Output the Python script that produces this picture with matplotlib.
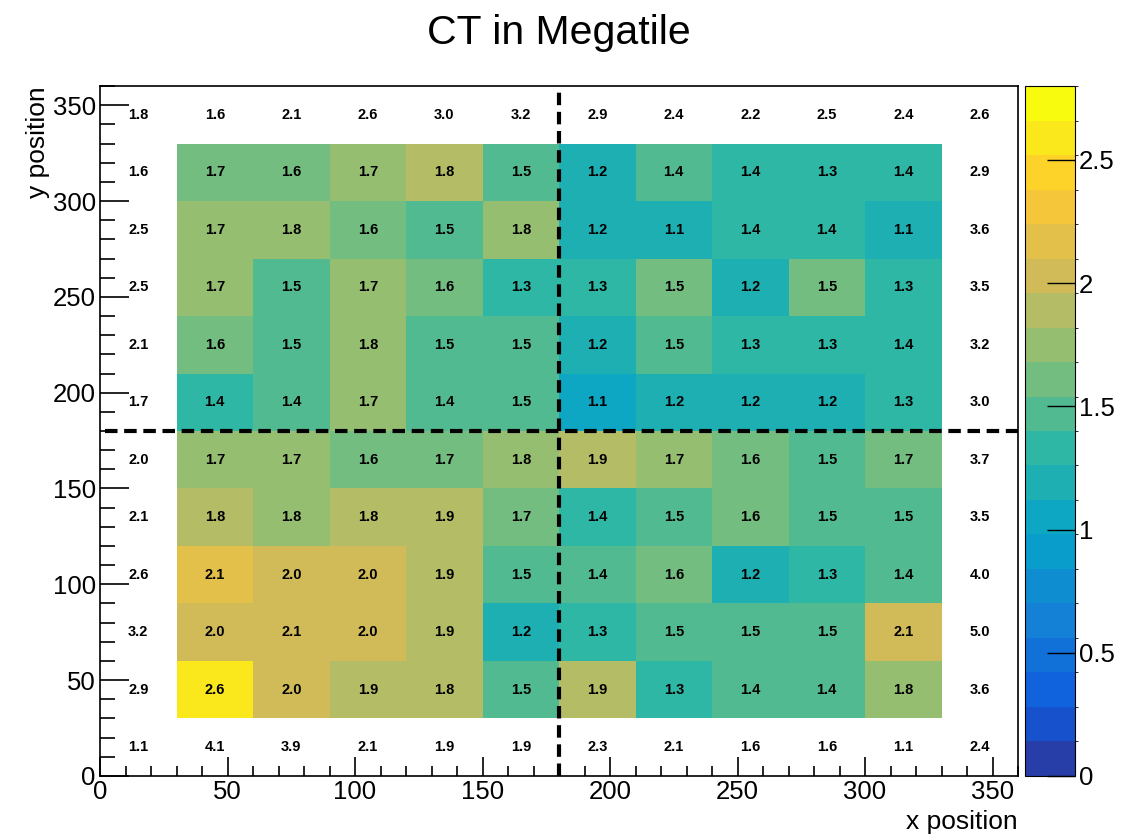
import numpy as np
import matplotlib
matplotlib.use("Agg")
import matplotlib.pyplot as plt
from matplotlib.colors import LinearSegmentedColormap, ListedColormap, BoundaryNorm
from matplotlib.ticker import MultipleLocator

plt.rcParams['font.family'] = ['Liberation Sans', 'DejaVu Sans']

# bin edges (12 x 12 bins, 30 wide)
x_edges = np.arange(0, 361, 30)
y_edges = np.arange(0, 361, 30)

# inner 10x10 cells, rows from y=30-60 (bottom) up to y=300-330 (top)
ct_inner = np.array([
    [2.60, 2.00, 1.90, 1.83, 1.50, 1.90, 1.30, 1.42, 1.42, 1.78],
    [2.00, 2.08, 2.00, 1.90, 1.20, 1.30, 1.50, 1.50, 1.50, 2.08],
    [2.12, 2.00, 2.00, 1.90, 1.50, 1.42, 1.60, 1.20, 1.30, 1.42],
    [1.83, 1.78, 1.83, 1.90, 1.66, 1.38, 1.50, 1.60, 1.50, 1.50],
    [1.70, 1.70, 1.60, 1.66, 1.78, 1.90, 1.70, 1.60, 1.50, 1.66],
    [1.38, 1.42, 1.70, 1.42, 1.50, 1.10, 1.20, 1.20, 1.20, 1.30],
    [1.60, 1.50, 1.78, 1.50, 1.50, 1.20, 1.50, 1.30, 1.30, 1.38],
    [1.70, 1.50, 1.70, 1.60, 1.30, 1.30, 1.54, 1.20, 1.54, 1.30],
    [1.70, 1.78, 1.60, 1.50, 1.78, 1.20, 1.13, 1.38, 1.38, 1.13],
    [1.66, 1.60, 1.70, 1.83, 1.50, 1.20, 1.42, 1.38, 1.30, 1.38],
])

# outer ring (text only)
ct_bottom = [1.1, 4.1, 3.9, 2.1, 1.9, 1.9, 2.3, 2.1, 1.6, 1.6, 1.1, 2.4]
ct_top = [1.8, 1.6, 2.1, 2.6, 3.0, 3.2, 2.9, 2.4, 2.2, 2.5, 2.4, 2.6]
ct_left = [2.9, 3.2, 2.6, 2.1, 2.0, 1.7, 2.1, 2.5, 2.5, 1.6]   # bottom -> top
ct_right = [3.6, 5.0, 4.0, 3.5, 3.7, 3.0, 3.2, 3.5, 3.6, 2.9]  # bottom -> top

z_min, z_max, n_contours = 0.0, 2.8, 20
divider = 180

# ROOT kBird palette
stops = [0.0, 0.125, 0.25, 0.375, 0.5, 0.625, 0.75, 0.875, 1.0]
red = [0.2082, 0.0592, 0.0780, 0.0232, 0.1802, 0.5301, 0.8186, 0.9956, 0.9764]
green = [0.1664, 0.3599, 0.5041, 0.6419, 0.7178, 0.7492, 0.7328, 0.7862, 0.9832]
blue = [0.5293, 0.8684, 0.8385, 0.7914, 0.6425, 0.4662, 0.3499, 0.1968, 0.0539]
bird = LinearSegmentedColormap.from_list(
    "bird", list(zip(stops, zip(red, green, blue))), N=255)
band_colors = [bird(int((k + 0.99) * 255 / n_contours)) for k in range(n_contours)]
cmap = ListedColormap(band_colors)
levels = np.linspace(z_min, z_max, n_contours + 1)
norm = BoundaryNorm(levels, cmap.N)

# full 12x12 text grid
ct_all = np.full((12, 12), np.nan)
ct_all[1:11, 1:11] = ct_inner
ct_all[0, :] = ct_bottom
ct_all[11, :] = ct_top
ct_all[1:11, 0] = ct_left
ct_all[1:11, 11] = ct_right

fig = plt.figure(figsize=(11.3, 8.36), dpi=100)
ax = fig.add_axes([0.0885, 0.0718, 0.8124, 0.8253])
cax = fig.add_axes([0.907, 0.0718, 0.044, 0.8253])

mesh = ax.pcolormesh(x_edges[1:12], y_edges[1:12], ct_inner, cmap=cmap, norm=norm)

xc = (x_edges[:-1] + x_edges[1:]) / 2
yc = (y_edges[:-1] + y_edges[1:]) / 2
for j in range(12):
    for i in range(12):
        ax.text(xc[i], yc[j], "%.1f" % ct_all[j, i], ha='center', va='center',
                fontsize=10.5, fontweight='bold', color='black')

ax.plot([divider, divider], [0, 360], color='black', lw=3, dashes=(3, 1.6))
ax.plot([2, 360], [divider, divider], color='black', lw=3, dashes=(3, 1.6))

ax.set_xlim(0, 360)
ax.set_ylim(0, 360)
ax.xaxis.set_major_locator(MultipleLocator(50))
ax.xaxis.set_minor_locator(MultipleLocator(10))
ax.yaxis.set_major_locator(MultipleLocator(50))
ax.yaxis.set_minor_locator(MultipleLocator(10))
ax.tick_params(axis='x', which='major', direction='in', length=14, width=1.2, labelsize=18.5, pad=3)
ax.tick_params(axis='x', which='minor', direction='in', length=7, width=1.2)
ax.tick_params(axis='y', which='major', direction='in', length=21, width=1.2, labelsize=18.5, pad=3)
ax.tick_params(axis='y', which='minor', direction='in', length=10.5, width=1.2)
for s in ax.spines.values():
    s.set_linewidth(1.2)

ax.set_xlabel("x position", fontsize=19, loc='right', labelpad=4)
ax.set_ylabel("y position", fontsize=19, loc='top', labelpad=2)
ax.set_title("CT in Megatile", fontsize=29.5, pad=30)

cb = fig.colorbar(mesh, cax=cax, ticks=[0, 0.5, 1, 1.5, 2, 2.5])
cb.ax.set_yticklabels(["0", "0.5", "1", "1.5", "2", "2.5"])
cb.ax.tick_params(direction='in', length=20, width=1, labelsize=18.5, pad=3)
cb.outline.set_linewidth(0.8)

fig.savefig("out.png", dpi=100)
